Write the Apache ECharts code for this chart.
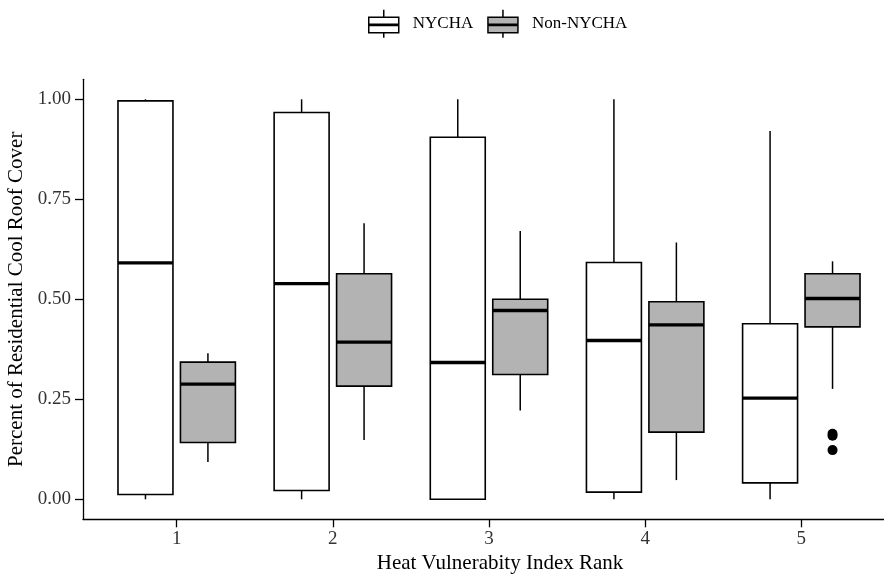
<!DOCTYPE html>
<html><head><meta charset="utf-8">
<script src="https://cdn.jsdelivr.net/npm/echarts@6/dist/echarts.min.js"></script>
<style>html,body{margin:0;padding:0;background:#fff}#c{width:884px;height:575px}</style>
</head><body><div id="c"></div>
<script>
// ---- data ----
const ranks = [1, 2, 3, 4, 5];
const nychaMin = [0.000, 0.000, 0.000, 0.000, 0.000];
const nychaQ1  = [0.012, 0.022, 0.000, 0.018, 0.041];
const nychaMed = [0.591, 0.539, 0.342, 0.397, 0.253];
const nychaQ3  = [0.996, 0.967, 0.905, 0.592, 0.439];
const nychaMax = [1.000, 1.000, 1.000, 1.000, 0.921];
const nonMin = [0.093, 0.148, 0.222, 0.048, 0.276];
const nonQ1  = [0.142, 0.283, 0.312, 0.168, 0.431];
const nonMed = [0.288, 0.393, 0.472, 0.436, 0.502];
const nonQ3  = [0.343, 0.564, 0.500, 0.494, 0.564];
const nonMax = [0.365, 0.690, 0.671, 0.642, 0.595];
const nonOutRank = [5, 5, 5];
const nonOutVal  = [0.164, 0.159, 0.123];
const yTicks = [0, 0.25, 0.5, 0.75, 1];
const xTicks = [1, 2, 3, 4, 5];

// ---- styling constants ----
const FONT = 'Liberation Serif';
const BOX_W = 0.352;   // box width in category units
const DODGE = 0.2;     // dodge offset in category units
const FILL_N = '#ffffff', FILL_G = '#b3b3b3';

function rows(mn, q1, md, q3, mx) {
  return ranks.map((r, i) => [r, mn[i], q1[i], md[i], q3[i], mx[i]]);
}
function boxRenderer(dodge, fill) {
  return function (params, api) {
    const x = api.value(0) + dodge;
    const w = api.size([BOX_W, 0])[0];
    const pMin = api.coord([x, api.value(1)]);
    const pQ1 = api.coord([x, api.value(2)]);
    const pMed = api.coord([x, api.value(3)]);
    const pQ3 = api.coord([x, api.value(4)]);
    const pMax = api.coord([x, api.value(5)]);
    const cx = pMin[0], l = cx - w / 2;
    const ws = { stroke: '#000', lineWidth: 1.5 };
    return { type: 'group', children: [
      { type: 'line', shape: { x1: cx, y1: pQ3[1], x2: cx, y2: pMax[1] }, style: ws },
      { type: 'line', shape: { x1: cx, y1: pQ1[1], x2: cx, y2: pMin[1] }, style: ws },
      { type: 'rect', shape: { x: l, y: pQ3[1], width: w, height: pQ1[1] - pQ3[1] },
        style: { fill: fill, stroke: '#000', lineWidth: 1.6 } },
      { type: 'line', shape: { x1: l, y1: pMed[1], x2: l + w, y2: pMed[1] },
        style: { stroke: '#000', lineWidth: 3.3 } }
    ]};
  };
}
function outlierRenderer(dodge) {
  return function (params, api) {
    const p = api.coord([api.value(0) + dodge, api.value(1)]);
    return { type: 'circle', shape: { cx: p[0], cy: p[1], r: 5 }, style: { fill: '#000' } };
  };
}
const ICON = 'path://M39,0M15,0L15,7.4M0,7.4L30,7.4L30,23L0,23ZM0,14.6L30,14.6M0,15.8L30,15.8M15,23L15,28';

const chart = echarts.init(document.getElementById('c'), null, { renderer: 'canvas' });
chart.setOption({
  backgroundColor: '#fff',
  animation: false,
  legend: {
    left: 368, top: 9, padding: 0, itemGap: 14, itemWidth: 39, itemHeight: 28,
    selectedMode: false,
    textStyle: { fontFamily: FONT, fontSize: 17, color: '#000' },
    data: [
      { name: 'NYCHA', icon: ICON, itemStyle: { color: FILL_N, borderColor: '#000', borderWidth: 1.5 } },
      { name: 'Non-NYCHA', icon: ICON, itemStyle: { color: FILL_G, borderColor: '#000', borderWidth: 1.5 } }
    ]
  },
  grid: { left: 83, right: -11, top: 79.3, bottom: 55.7, containLabel: false, outerBoundsMode: 'none' },
  xAxis: {
    type: 'value', min: 0.4, max: 5.6,
    name: 'Heat Vulnerabity Index Rank', nameLocation: 'middle', nameGap: 32,
    nameTextStyle: { fontFamily: FONT, fontSize: 21, color: '#000', padding: [0, 0, 0, 22] },
    axisLine: { show: true, onZero: false, lineStyle: { color: '#000', width: 1.3 } },
    axisTick: { show: true, length: 8, customValues: xTicks, lineStyle: { color: '#000', width: 1.3 } },
    axisLabel: { customValues: xTicks, margin: 10, fontFamily: FONT, fontSize: 19, color: '#333' },
    splitLine: { show: false }
  },
  yAxis: {
    type: 'value', min: -0.05, max: 1.05,
    name: 'Percent of Residential Cool Roof Cover', nameLocation: 'middle', nameGap: 55,
    nameTextStyle: { fontFamily: FONT, fontSize: 21, color: '#000' },
    axisLine: { show: true, onZero: false, lineStyle: { color: '#000', width: 1.3 } },
    axisTick: { show: true, length: 8, customValues: yTicks, lineStyle: { color: '#000', width: 1.3 } },
    axisLabel: { customValues: yTicks, margin: 12, fontFamily: FONT, fontSize: 19, color: '#333',
      formatter: v => v.toFixed(2) },
    splitLine: { show: false }
  },
  series: [
    { name: 'NYCHA', type: 'custom', renderItem: boxRenderer(-DODGE, FILL_N),
      itemStyle: { color: FILL_N, borderColor: '#000' },
      encode: { x: 0, y: [1, 2, 3, 4, 5] },
      data: rows(nychaMin, nychaQ1, nychaMed, nychaQ3, nychaMax) },
    { name: 'Non-NYCHA', type: 'custom', renderItem: boxRenderer(DODGE, FILL_G),
      itemStyle: { color: FILL_G, borderColor: '#000' },
      encode: { x: 0, y: [1, 2, 3, 4, 5] },
      data: rows(nonMin, nonQ1, nonMed, nonQ3, nonMax) },
    { name: 'Non-NYCHA outliers', type: 'custom', renderItem: outlierRenderer(DODGE),
      encode: { x: 0, y: 1 },
      data: nonOutRank.map((r, i) => [r, nonOutVal[i]]) }
  ]
});
</script></body></html>
